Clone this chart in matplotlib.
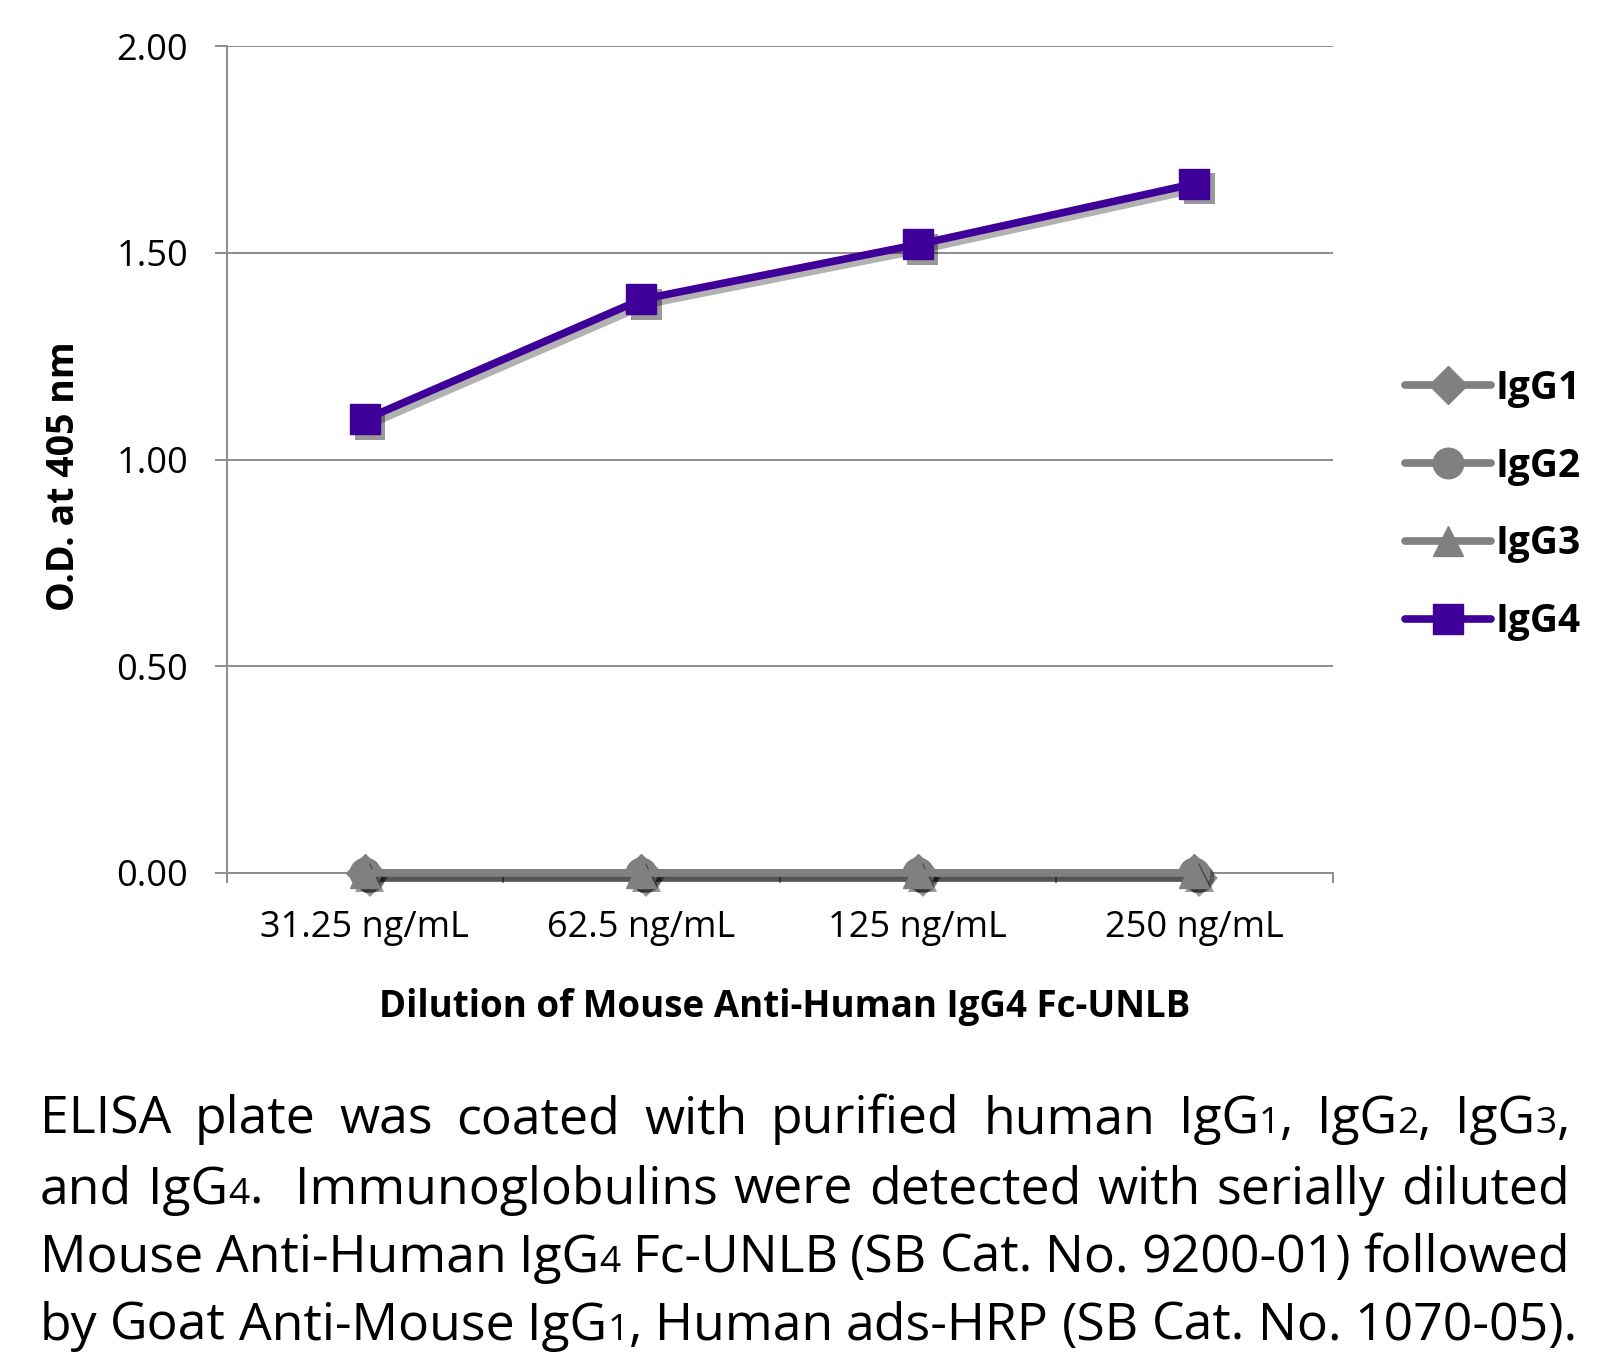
import re
import matplotlib
matplotlib.use("Agg")
import matplotlib.pyplot as plt
import matplotlib.patheffects as pe

plt.rcParams["font.family"] = ["Open Sans", "DejaVu Sans"]

# ===============================
# DATA
# ===============================
categories = ["31.25 ng/mL", "62.5 ng/mL", "125 ng/mL", "250 ng/mL"]
igg1 = [0.0, 0.0, 0.0, 0.0]
igg2 = [0.0, 0.0, 0.0, 0.0]
igg3 = [0.0, 0.0, 0.0, 0.0]
igg4 = [1.097, 1.387, 1.520, 1.667]
yticks = [0.0, 0.5, 1.0, 1.5, 2.0]

xlabel = "Dilution of Mouse Anti-Human IgG4 Fc-UNLB"
ylabel = "O.D. at 405 nm"

# digits in braces are drawn small
caption_lines = [
    "ELISA plate was coated with purified human IgG{1}, IgG{2}, IgG{3},",
    "and IgG{4}.  Immunoglobulins were detected with serially diluted",
    "Mouse Anti-Human IgG{4} Fc-UNLB (SB Cat. No. 9200-01) followed",
    "by Goat Anti-Mouse IgG{1}, Human ads-HRP (SB Cat. No. 1070-05).",
]

GRAY = "#808080"
PURPLE = "#3f0099"
GRID = "#8c8c8c"

W, H = 1616, 1357
fig = plt.figure(figsize=(W / 100, H / 100), dpi=100)
ax = fig.add_axes([226.7 / W, 1 - 873 / H, (1332.6 - 226.7) / W, (873 - 46) / H])

x = list(range(len(categories)))

series = [
    ("IgG1", igg1, GRAY, "D", 19),
    ("IgG2", igg2, GRAY, "o", 22),
    ("IgG3", igg3, GRAY, "^", 21),
    ("IgG4", igg4, PURPLE, "s", 22),
]

# ===============================
# LINES + SHADOWS
# ===============================
for i, (name, vals, col, mk, ms) in enumerate(series):
    z = 3 + i
    # shadow for the line
    ax.plot(x, vals, color=col, lw=5.5, zorder=z - 0.5, clip_on=False,
            path_effects=[pe.SimpleLineShadow(offset=(3.5, -3.5), shadow_color="k", alpha=0.3)])
    # shadow for the markers
    ax.plot(x, vals, ls="none", marker=mk, ms=ms, color=col, zorder=z - 0.5, clip_on=False,
            path_effects=[pe.SimplePatchShadow(offset=(3.5, -3.5), shadow_rgbFace="k", alpha=0.4)])
    ax.plot(x, vals, color=col, lw=5.5, marker=mk, ms=ms, mec=col, label=name,
            zorder=z, clip_on=False, solid_capstyle="round")

# ===============================
# AXES
# ===============================
ax.set_xlim(-0.5, len(categories) - 0.5)
ax.set_ylim(0, 2.0)
ax.set_yticks(yticks)
ax.set_yticklabels([f"{v:.2f}" for v in yticks])
ax.set_xticks(x)
ax.set_xticklabels(categories)
ax.set_xticks([i - 0.5 for i in range(len(categories) + 1)], minor=True)

ax.yaxis.grid(True, color=GRID, lw=1.4, zorder=0)
ax.set_axisbelow(True)
for s in ["top", "right"]:
    ax.spines[s].set_visible(False)
for s in ["left", "bottom"]:
    ax.spines[s].set_color(GRID)
    ax.spines[s].set_linewidth(1.4)

ax.tick_params(axis="y", length=8.6, width=1.4, color=GRID, pad=19, labelsize=26)
ax.tick_params(axis="x", which="major", length=0, pad=27, labelsize=26)
ax.tick_params(axis="x", which="minor", length=7.5, width=1.4, color=GRID)

ax.set_xlabel(xlabel, fontsize=26.5, fontweight="bold", va="center")
ax.xaxis.set_label_coords(0.505, (873 - 1007) / 827)
ax.set_ylabel(ylabel, fontsize=27, fontweight="bold", va="center")
ax.yaxis.set_label_coords((64 - 226.7) / 1105.9, (873 - 476) / 827)

ax.legend(frameon=False, loc="center left", bbox_to_anchor=(1.0655, 0.445),
          borderaxespad=0, borderpad=0, handlelength=2.2, handletextpad=0.12,
          labelspacing=1.0, prop=dict(weight="bold", size=28))

# ===============================
# CAPTION (justified lines)
# ===============================
cap_family = ["Open Sans", "DejaVu Sans"]
renderer = fig.canvas.get_renderer()


def runs_of(word):
    out = []
    for part in re.split(r"(\{\d+\})", word):
        if not part:
            continue
        if part.startswith("{"):
            out.append((part[1:-1], True))
        else:
            out.append((part, False))
    return out


def run_width(txt, size):
    t = fig.text(0, 0, txt, fontsize=size, family=cap_family)
    w = t.get_window_extent(renderer).width
    t.remove()
    return w


def layout(line, size):
    tokens = line.split(" ")
    words, weights = [], []
    pending = 0
    for tok in tokens:
        if tok == "":
            pending += 1
            continue
        if words:
            weights.append(1 + pending)
        pending = 0
        runs = runs_of(tok)
        ws = [run_width(t, size * (0.72 if small else 1)) for t, small in runs]
        words.append((runs, ws))
    return words, weights


cap_x0 = 40
cap_x1 = [1570, 1570, 1570, 1577]
cap_base = [1133, 1204, 1272, 1340]

size = 39
for _ in range(6):
    worst = 0
    for line, x1 in zip(caption_lines, cap_x1):
        words, weights = layout(line, size)
        nat = sum(sum(ws) for _, ws in words) + sum(weights) * 0.22 * size * 100 / 72
        worst = max(worst, nat / (x1 - cap_x0))
    if worst <= 1:
        break
    size = size / worst * 0.995

for line, x1, yb in zip(caption_lines, cap_x1, cap_base):
    words, weights = layout(line, size)
    total = sum(sum(ws) for _, ws in words)
    gap = (x1 - cap_x0 - total) / max(sum(weights), 1)
    xp = cap_x0
    for k, (runs, ws) in enumerate(words):
        for (txt, small), w in zip(runs, ws):
            fig.text(xp / W, 1 - yb / H, txt, fontsize=size * (0.72 if small else 1),
                     family=cap_family, va="baseline", ha="left")
            xp += w
        if k < len(weights):
            xp += gap * weights[k]

fig.savefig("out.png", dpi=100)
